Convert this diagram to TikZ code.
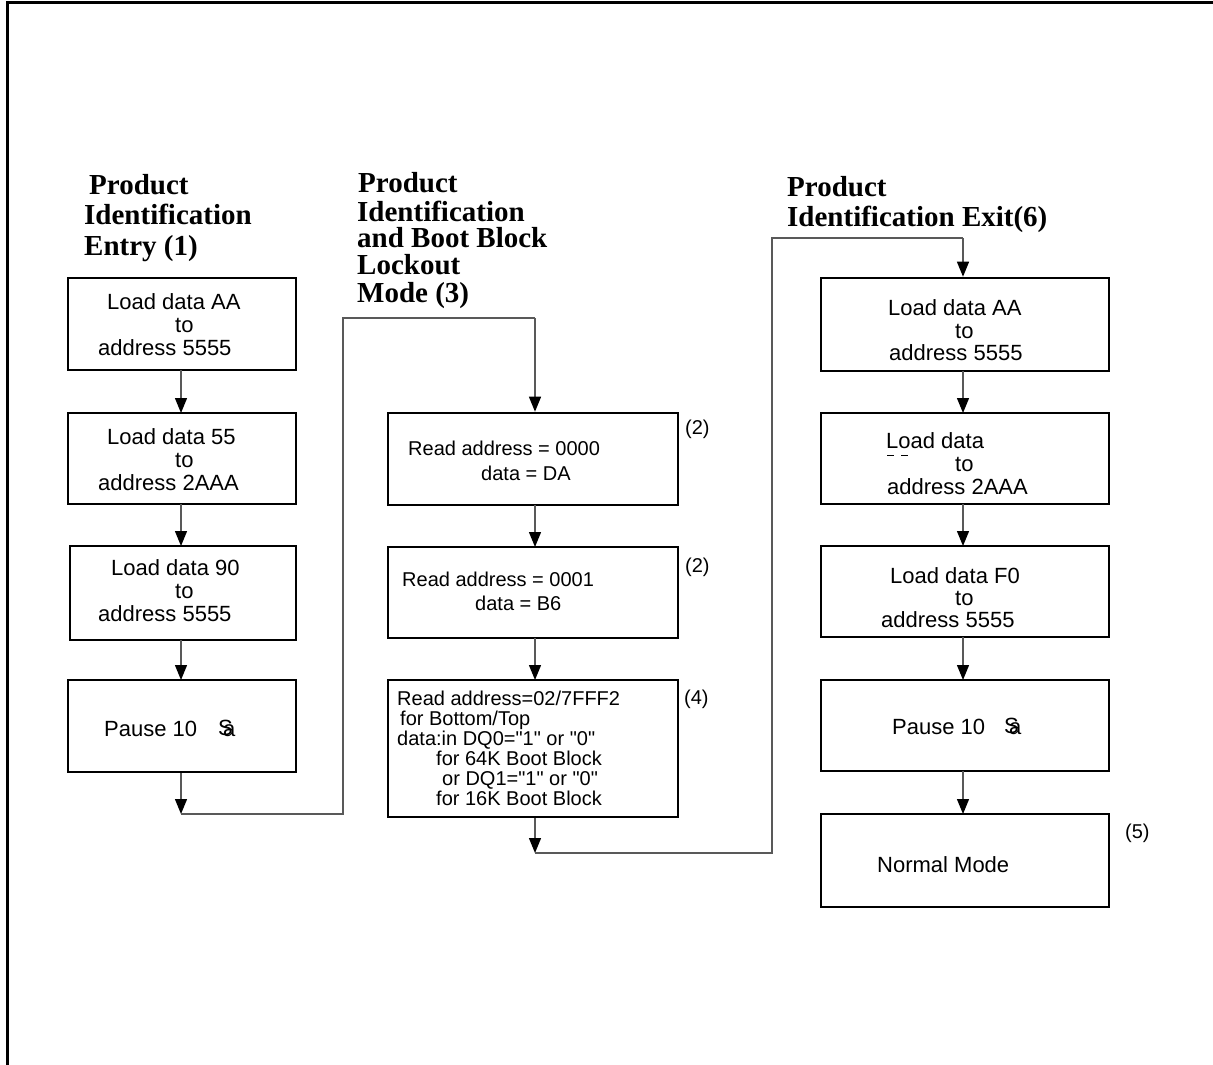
\documentclass[tikz,border=0pt]{standalone}
\usepackage{fontspec}
\setmainfont{Liberation Sans}
\newfontfamily\titlefont{Liberation Serif}
\usetikzlibrary{arrows.meta}
\begin{document}
\begin{tikzpicture}[x=1pt,y=-1pt,
 box/.style={draw,line width=2.6pt,inner sep=0pt},
 lbl/.style={anchor=base west,inner sep=0pt,font=\fontsize{20}{23}\selectfont},
 lbb/.style={anchor=base west,inner sep=0pt,font=\fontsize{22}{23}\selectfont},
 ttl/.style={anchor=base west,inner sep=0pt,font=\titlefont\bfseries\fontsize{29}{30}\selectfont},
 conn/.style={draw=black!65,line width=1.3pt},
 arr/.style={conn,-{Triangle[width=12pt,length=15pt,color=black]}}]
\useasboundingbox (0,0) rectangle (1213,1065);
% frame
\draw[line width=3pt] (7,1065) -- (7,2.5) -- (1213,2.5);

% titles
\node[ttl] (t1a) at (89,194) {Product};
\node[ttl] (t1b) at (84,224) {Identification};
\node[ttl] (t1c) at (84,255) {Entry (1)};
\node[ttl] (t2a) at (358,192) {Product};
\node[ttl] (t2b) at (357,221) {Identification};
\node[ttl] (t2c) at (357,247) {and Boot Block};
\node[ttl] (t2d) at (357,274) {Lockout};
\node[ttl] (t2e) at (357,302) {Mode (3)};
\node[ttl] (t3a) at (787,196) {Product};
\node[ttl] (t3b) at (787,226) {Identification Exit(6)};

% left column boxes
\node[box,minimum width=228pt,minimum height=92pt] (b1) at (182,324) {};
\node[box,minimum width=228pt,minimum height=91pt] (b2) at (182,458.5) {};
\node[box,minimum width=226pt,minimum height=94pt] (b3) at (183,593) {};
\node[box,minimum width=228pt,minimum height=92pt] (b4) at (182,726) {};
% middle column boxes
\node[box,minimum width=290pt,minimum height=92pt] (bA) at (533,459) {};
\node[box,minimum width=290pt,minimum height=91pt] (bB) at (533,592.5) {};
\node[box,minimum width=290pt,minimum height=137pt] (bC) at (533,748.5) {};
% right column boxes
\node[box,minimum width=288pt,minimum height=93pt] (r1) at (965,324.5) {};
\node[box,minimum width=288pt,minimum height=91pt] (r2) at (965,458.5) {};
\node[box,minimum width=288pt,minimum height=91pt] (r3) at (965,591.5) {};
\node[box,minimum width=288pt,minimum height=91pt] (r4) at (965,725.5) {};
\node[box,minimum width=288pt,minimum height=93pt] (r5) at (965,860.5) {};

% left texts
\node[lbb] (l1a) at (107,309) {Load data AA};
\node[lbb] (l1b) at (175,332) {to};
\node[lbb] (l1c) at (98,355) {address 5555};
\node[lbb] (l2a) at (107,444) {Load data 55};
\node[lbb] (l2b) at (175,467) {to};
\node[lbb] (l2c) at (98,490) {address 2AAA};
\node[lbb] (l3a) at (111,575) {Load data 90};
\node[lbb] (l3b) at (175,598) {to};
\node[lbb] (l3c) at (98,621) {address 5555};
\node[lbb] (l4a) at (104,736) {Pause 10};
\node[lbb] (l4b) at (218,736) {\rlap{\raisebox{1pt}{S}}\kern5pt a};

% middle texts
\node[lbl] (mAa) at (408,455) {Read address = 0000};
\node[lbl] (mAb) at (481,480) {data = DA};
\node[lbl] (mBa) at (402,586) {Read address = 0001};
\node[lbl] (mBb) at (475,610) {data = B6};
\node[lbl] (mC1) at (397,705) {Read address=02/7FFF2};
\node[lbl] (mC2) at (400,725) {for Bottom/Top};
\node[lbl] (mC3) at (397,745) {data:in DQ0=\textquotedbl 1\textquotedbl\ or \textquotedbl 0\textquotedbl};
\node[lbl] (mC4) at (436,765) {for 64K Boot Block};
\node[lbl] (mC5) at (442,785) {or DQ1=\textquotedbl 1\textquotedbl\ or \textquotedbl 0\textquotedbl};
\node[lbl] (mC6) at (436,805) {for 16K Boot Block};
\node[lbl] (n2a) at (685,434) {(2)};
\node[lbl] (n2b) at (685,572) {(2)};
\node[lbl] (n4) at (684,704) {(4)};

% right texts
\node[lbb] (r1a) at (888,315) {Load data AA};
\node[lbb] (r1b) at (955,338) {to};
\node[lbb] (r1c) at (889,360) {address 5555};
\node[lbb] (r2a) at (886,448) {Load data};
\node[lbb] (r2b) at (955,471) {to};
\node[lbb] (r2c) at (887,494) {address 2AAA};
\node[lbb] (r3a) at (890,583) {Load data F0};
\node[lbb] (r3b) at (955,605) {to};
\node[lbb] (r3c) at (881,627) {address 5555};
\node[lbb] (r4a) at (892,734) {Pause 10};
\node[lbb] (r4b) at (1004,734) {\rlap{\raisebox{1pt}{S}}\kern5pt a};
\node[lbb] (r5a) at (877,872) {Normal Mode};
\node[lbl] (n5) at (1125,838) {(5)};
\draw[line width=1pt] (887,455) -- (894,455) (901,455) -- (908,455);

% connectors left column
\draw[arr] (181,370) -- (181,413);
\draw[arr] (181,504) -- (181,546);
\draw[arr] (181,640) -- (181,680);
\coordinate (c1) at (181,814);
\draw[arr] (b4.south -| c1) -- (c1);
\draw[conn] (c1) -- (343,814) -- (343,318) -- (535,318);
\draw[arr] (535,318) -- (bA.north -| 535,0);
% middle column
\draw[arr] (535,505) -- (535,547);
\draw[arr] (535,638) -- (535,680);
\coordinate (c2) at (535,853);
\draw[arr] (bC.south -| c2) -- (c2);
\draw[conn] (c2) -- (772,853) -- (772,238) -- (963,238);
\draw[arr] (963,238) -- (r1.north -| 963,0);
% right column
\draw[arr] (963,371) -- (963,413);
\draw[arr] (963,504) -- (963,546);
\draw[arr] (963,637) -- (963,680);
\draw[arr] (963,771) -- (963,814);
\end{tikzpicture}
\end{document}
